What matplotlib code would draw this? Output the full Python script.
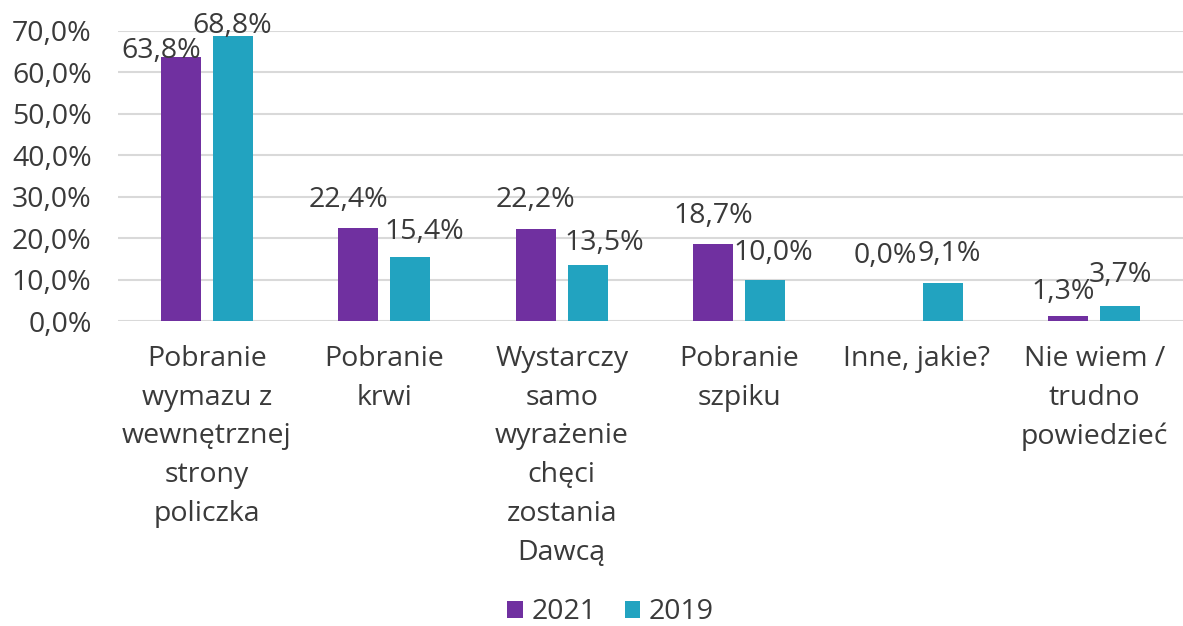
import matplotlib.pyplot as plt
import numpy as np

plt.rcParams['font.family'] = ['Open Sans', 'DejaVu Sans']

# Data
categories = [
    "Pobranie\nwymazu z\nwewnętrznej\nstrony\npoliczka",
    "Pobranie\nkrwi",
    "Wystarczy\nsamo\nwyrażenie\nchęci\nzostania\nDawcą",
    "Pobranie\nszpiku",
    "Inne, jakie?",
    "Nie wiem /\ntrudno\npowiedzieć",
]
values_2021 = [63.8, 22.4, 22.2, 18.7, 0.0, 1.3]
values_2019 = [68.8, 15.4, 13.5, 10.0, 9.1, 3.7]
series_names = ["2021", "2019"]

# label offsets in points (dx, dy) from bar top centre
offs_2021 = [(-14, 4), (-7, 20), (0, 21), (0, 20), (-4, 47), (-4, 17)]
offs_2019 = [(0, 7), (10, 18), (12, 16), (6, 19), (5, 21), (0, 22)]

purple = "#7030A0"
teal = "#22A3C0"
text_col = "#3A3A3A"
fs = 20.5

fig = plt.figure(figsize=(11.83, 6.26), dpi=100)
ax = fig.add_axes([0.0997, 0.4872, 0.9003, 0.4633])

x = np.arange(len(categories))
w = 0.225
d = 0.146
b1 = ax.bar(x - d, values_2021, w, color=purple, label=series_names[0], zorder=3)
b2 = ax.bar(x + d, values_2019, w, color=teal, label=series_names[1], zorder=3)

for bars, vals, offs in [(b1, values_2021, offs_2021), (b2, values_2019, offs_2019)]:
    for bar, v, (dx, dy) in zip(bars, vals, offs):
        ax.annotate(f"{v:.1f}%".replace(".", ","),
                    (bar.get_x() + bar.get_width() / 2, bar.get_height()),
                    xytext=(dx, dy), textcoords="offset points",
                    ha="center", va="center", fontsize=fs, color=text_col, zorder=4)

ax.set_xlim(-0.5, 5.5)
ax.set_ylim(0, 70)
ax.set_yticks(np.arange(0, 71, 10))
ax.set_yticklabels([f"{t},0%" for t in range(0, 71, 10)])
ax.yaxis.grid(True, color="#D9D9D9", linewidth=1.5, zorder=0)
ax.set_xticks(x)
ax.set_xticklabels(categories, linespacing=1.52, va="top")
ax.tick_params(axis="both", length=0, labelsize=fs, colors=text_col)
ax.tick_params(axis="x", pad=17)
ax.tick_params(axis="y", pad=19)
for s in ax.spines.values():
    s.set_visible(False)

fig.legend(handles=[b1, b2], labels=series_names, loc="center",
           bbox_to_anchor=(0.516, 0.022), ncol=2, frameon=False,
           fontsize=fs, handlelength=0.55, handleheight=0.55,
           handletextpad=0.3, columnspacing=1.0, labelcolor=text_col)

fig.savefig("out.png", dpi=100)
